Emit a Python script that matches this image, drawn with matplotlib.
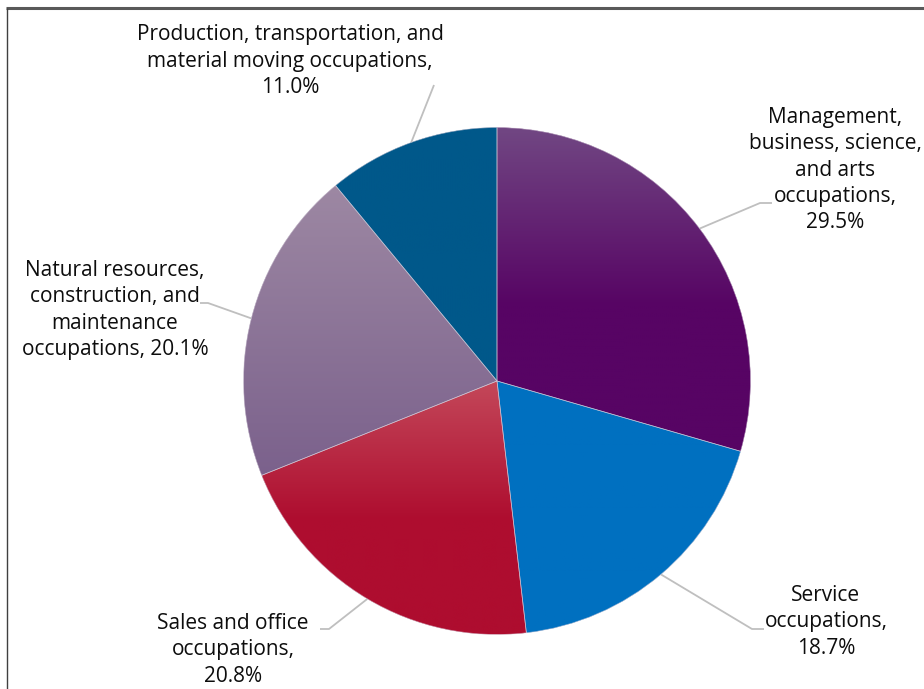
import numpy as np
import matplotlib
matplotlib.use("Agg")
import matplotlib.pyplot as plt
from matplotlib.colors import to_rgb
from matplotlib.patches import Wedge

# Employed civilian population by occupation (percent)
categories = [
    "Management, business, science, and arts occupations",
    "Service occupations",
    "Sales and office occupations",
    "Natural resources, construction, and maintenance occupations",
    "Production, transportation, and material moving occupations",
]
shares = [29.5, 18.7, 20.8, 20.1, 11.0]
label_templates = [
    "Management,\nbusiness, science,\nand arts\noccupations,\n{:.1f}%",
    "Service\noccupations,\n{:.1f}%",
    "Sales and office\noccupations,\n{:.1f}%",
    "Natural resources,\nconstruction, and\nmaintenance\noccupations, {:.1f}%",
    "Production, transportation, and\nmaterial moving occupations,\n{:.1f}%",
]

# fill: (top colour, base colour, fraction of height the fade covers)
FILLS = [
    ("#714783", "#570464", 0.55),
    ("#0070c0", "#0070c0", 1.0),
    ("#c4485a", "#ae0d2f", 0.55),
    ("#9d88a3", "#7b618c", 1.0),
    ("#00588a", "#00588a", 1.0),
]

W, H = 924, 689
CX, CY, R = 497, 381, 253.5

# label centre and leader elbow, in pixels from the top-left corner
LABEL_POS = [(835, 170), (826, 622), (233, 650), (115, 310), (290, 61)]
ELBOWS = [
    [(760, 203), (772, 203)],
    [(752, 629), (764, 629)],
    [(329, 629), (320, 629)],
    [(208, 303), (200, 303)],
    [(434, 85)],
]

plt.rcParams["font.family"] = ["Open Sans", "DejaVu Sans"]

fig = plt.figure(figsize=(W / 100, H / 100), dpi=100)
ax = fig.add_axes([0, 0, 1, 1])


def fy(y):
    return H - y


wedges, _ = ax.pie(shares, startangle=90, counterclock=False,
                   center=(CX, fy(CY)), radius=R, frame=True,
                   wedgeprops=dict(linewidth=0))
ax.set_aspect("auto")
ax.axis("off")

for w, (top, base, stop) in zip(wedges, FILLS):
    w.set_facecolor(base)
    ext = w.get_path().get_extents()
    t = np.linspace(1, 0, 256)  # 0 at top, 1 at bottom (origin lower)
    f = np.clip(t / stop, 0, 1)[:, None]
    grad = np.array(to_rgb(top))[None, :] * (1 - f) + np.array(to_rgb(base))[None, :] * f
    img = np.repeat(grad[:, None, :], 2, axis=1)
    im = ax.imshow(img, extent=(ext.x0, ext.x1, ext.y0, ext.y1), origin="lower",
                   aspect="auto", interpolation="bilinear", zorder=2)
    im.set_clip_path(w)
    # thin outline between slices
    ax.add_patch(Wedge(w.center, w.r, w.theta1, w.theta2, fill=False,
                       edgecolor="#d8d0dc", linewidth=0.5, alpha=0.7, zorder=3))

ax.set_xlim(0, W)
ax.set_ylim(0, H)

for w, share, tmpl, (lx, ly), elbow in zip(wedges, shares, label_templates,
                                           LABEL_POS, ELBOWS):
    mid = np.deg2rad((w.theta1 + w.theta2) / 2)
    x0 = w.center[0] + R * np.cos(mid)
    y0 = w.center[1] + R * np.sin(mid)
    xs = [x0] + [p[0] for p in elbow]
    ys = [y0] + [fy(p[1]) for p in elbow]
    ax.plot(xs, ys, color="#bfbfbf", linewidth=1.3, zorder=1,
            solid_capstyle="butt")
    ax.text(lx, fy(ly), tmpl.format(share), ha="center", va="center",
            fontsize=15, linespacing=1.33, color="#0d0d0d", zorder=4)

# chart frame (top and left edges)
ax.plot([6, W], [fy(7.5), fy(7.5)], color="#595959", linewidth=2.2,
        solid_capstyle="butt", zorder=5)
ax.plot([6.5, 6.5], [0, fy(7.5)], color="#404040", linewidth=1.0,
        solid_capstyle="butt", zorder=5)

fig.savefig("out.png", dpi=100)
